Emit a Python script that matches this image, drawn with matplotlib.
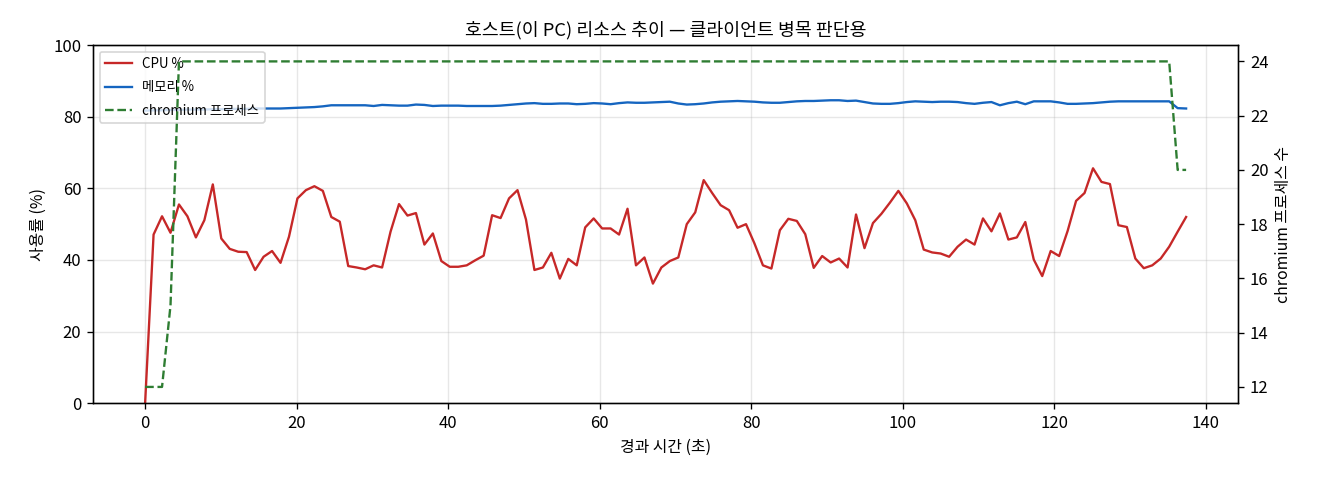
import numpy as np
import matplotlib
matplotlib.use("Agg")
import matplotlib.pyplot as plt

plt.rcParams["font.family"] = ["Noto Sans CJK KR", "DejaVu Sans"]
plt.rcParams["axes.unicode_minus"] = False

# sampling interval of the host monitor (seconds)
SAMPLE_SEC = 1.117

cpu_pct = [
    0.0, 47.1, 52.2, 47.6, 55.5, 52.2, 46.3, 51.1, 61.1, 46.0,
    43.1, 42.3, 42.2, 37.2, 40.9, 42.5, 39.2, 46.5, 57.2, 59.5,
    60.6, 59.3, 52.0, 50.7, 38.3, 37.9, 37.4, 38.5, 37.9, 47.9,
    55.6, 52.4, 53.1, 44.3, 47.4, 39.7, 38.1, 38.1, 38.5, 39.9,
    41.2, 52.5, 51.7, 57.2, 59.5, 51.3, 37.2, 37.9, 42.0, 34.8,
    40.3, 38.5, 49.1, 51.6, 48.8, 48.8, 47.1, 54.3, 38.5, 40.7,
    33.4, 37.9, 39.7, 40.7, 50.0, 53.3, 62.3, 58.7, 55.3, 53.9,
    49.0, 50.0, 44.6, 38.5, 37.6, 48.3, 51.5, 50.9, 47.2, 37.8,
    41.1, 39.3, 40.4, 37.9, 52.7, 43.3, 50.3, 52.9, 56.0, 59.3,
    55.8, 51.1, 42.9, 42.1, 41.8, 40.9, 43.7, 45.7, 44.3, 51.6,
    48.0, 53.0, 45.7, 46.3, 50.6, 40.1, 35.5, 42.5, 41.1, 48.1,
    56.5, 58.7, 65.6, 61.8, 61.2, 49.7, 49.2, 40.4, 37.7, 38.5,
    40.4, 43.7, 47.9, 52.0,
]

mem_pct = [
    81.7, 81.8, 81.8, 81.9, 81.9, 82.0, 82.0, 82.0, 82.1, 82.1,
    82.2, 82.2, 82.2, 82.3, 82.3, 82.3, 82.3, 82.4, 82.5, 82.6,
    82.7, 82.9, 83.2, 83.2, 83.2, 83.2, 83.2, 83.0, 83.3, 83.2,
    83.1, 83.1, 83.4, 83.3, 83.0, 83.1, 83.1, 83.1, 83.0, 83.0,
    83.0, 83.0, 83.1, 83.3, 83.5, 83.7, 83.8, 83.6, 83.6, 83.7,
    83.7, 83.5, 83.6, 83.8, 83.7, 83.5, 83.8, 84.0, 83.9, 83.9,
    84.0, 84.1, 84.2, 83.7, 83.4, 83.5, 83.7, 84.0, 84.2, 84.3,
    84.4, 84.3, 84.2, 84.0, 83.9, 83.9, 84.1, 84.3, 84.4, 84.4,
    84.5, 84.6, 84.6, 84.4, 84.5, 84.1, 83.7, 83.6, 83.6, 83.8,
    84.1, 84.3, 84.2, 84.1, 84.2, 84.2, 84.1, 83.8, 83.6, 83.9,
    84.1, 83.2, 83.8, 84.2, 83.5, 84.3, 84.3, 84.3, 84.0, 83.6,
    83.6, 83.7, 83.8, 84.0, 84.2, 84.3, 84.3, 84.3, 84.3, 84.3,
    84.3, 84.3, 82.4, 82.3,
]

chromium_procs = [12, 12, 12, 15] + [24] * 118 + [20, 20]

t_sec = np.arange(len(cpu_pct)) * SAMPLE_SEC

fig, ax = plt.subplots(figsize=(11, 4), dpi=120)
ax2 = ax.twinx()

l1, = ax.plot(t_sec, cpu_pct, color="#c62828", linewidth=1.4, label="CPU %")
l2, = ax.plot(t_sec, mem_pct, color="#1565c0", linewidth=1.4, label="메모리 %")
l3, = ax2.plot(t_sec, chromium_procs, color="#2e7d32", linewidth=1.4,
               linestyle="--", label="chromium 프로세스")

ax.set_ylim(0, 100)
ax.set_xlabel("경과 시간 (초)", fontsize=9.5)
ax.set_ylabel("사용률 (%)", fontsize=9.5)
ax2.set_ylabel("chromium 프로세스 수", fontsize=9.5)
ax.set_title("호스트(이 PC) 리소스 추이 — 클라이언트 병목 판단용", fontsize=11)
ax.grid(True, alpha=0.3)
ax.tick_params(labelsize=10)
ax2.tick_params(labelsize=10)

ax.legend(handles=[l1, l2, l3], loc="upper left", fontsize=8, labelspacing=0.7)

fig.subplots_adjust(left=0.0705, right=0.938, bottom=0.16, top=0.906)
fig.savefig("out.png", dpi=120)
